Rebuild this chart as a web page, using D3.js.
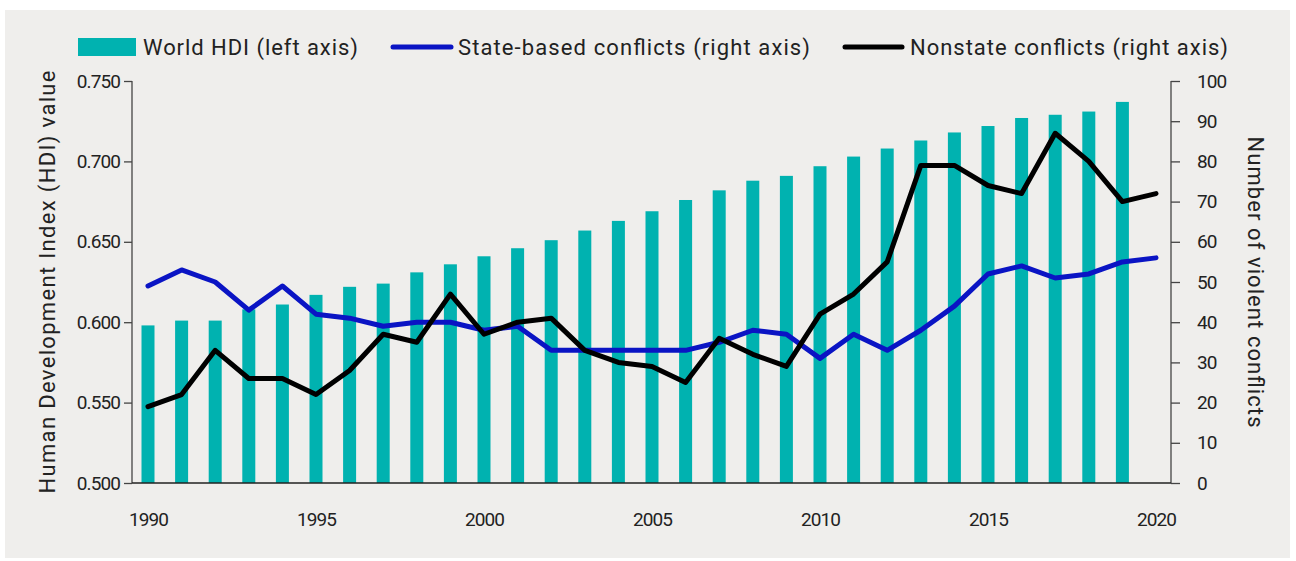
<!DOCTYPE html>
<html>
<head>
<meta charset="utf-8">
<script src="https://cdn.jsdelivr.net/npm/d3@7"></script>
<style>
  body { margin: 0; background: #fff; }
  text { font-family: Roboto, "Open Sans", sans-serif; fill: #222; }
</style>
</head>
<body>
<svg id="chart" width="1296" height="561"></svg>
<script>
// years shown on the x axis
var years = d3.range(1990, 2021);
var hdiYears = d3.range(1990, 2020);
var hdi = [0.598, 0.601, 0.601, 0.608, 0.611, 0.617, 0.622, 0.624, 0.631, 0.636,
           0.641, 0.646, 0.651, 0.657, 0.663, 0.669, 0.676, 0.682, 0.688, 0.691,
           0.697, 0.703, 0.708, 0.713, 0.718, 0.722, 0.727, 0.729, 0.731, 0.737];
var stateBased = [49, 53, 50, 43, 49, 42, 41, 39, 40, 40,
                  38, 39, 33, 33, 33, 33, 33, 35, 38, 37,
                  31, 37, 33, 38, 44, 52, 54, 51, 52, 55, 56];
var nonState = [19, 22, 33, 26, 26, 22, 28, 37, 35, 47,
                37, 40, 41, 33, 30, 29, 25, 36, 32, 29,
                42, 47, 55, 79, 79, 74, 72, 87, 80, 70, 72];
var xTicks = [1990, 1995, 2000, 2005, 2010, 2015, 2020];
var leftTicks = [0.5, 0.55, 0.6, 0.65, 0.7, 0.75];
var rightTicks = d3.range(0, 101, 10);

var svg = d3.select("#chart");

// gray panel
svg.append("rect")
  .attr("x", 5).attr("y", 10)
  .attr("width", 1285).attr("height", 548)
  .attr("fill", "#efeeec");

var plotL = 132, plotR = 1171, plotT = 81, plotB = 483;

var x = d3.scaleLinear().domain([1990, 2020]).range([148, 1156]);
var yL = d3.scaleLinear().domain([0.5, 0.75]).range([plotB, plotT]);
var yR = d3.scaleLinear().domain([0, 100]).range([plotB, plotT]);

var barW = 13;

// bars
svg.append("g").selectAll("rect")
  .data(hdiYears)
  .enter().append("rect")
  .attr("x", function(d) { return x(d) - barW / 2; })
  .attr("y", function(d, i) { return yL(hdi[i]); })
  .attr("width", barW)
  .attr("height", function(d, i) { return plotB - yL(hdi[i]); })
  .attr("fill", "#00b2b0");

// axes
var axL = svg.append("g")
  .attr("transform", "translate(" + plotL + ",0)")
  .call(d3.axisLeft(yL).tickValues(leftTicks).tickFormat(d3.format(".3f")).tickSize(8).tickPadding(4));
var axR = svg.append("g")
  .attr("transform", "translate(" + plotR + ",0)")
  .call(d3.axisRight(yR).tickValues(rightTicks).tickSize(9).tickPadding(17));
var axB = svg.append("g")
  .attr("transform", "translate(0," + plotB + ")")
  .call(d3.axisBottom(x).tickValues(xTicks).tickFormat(d3.format("d")).tickSize(0).tickPadding(30));

[axL, axR].forEach(function(a) {
  a.select(".domain").attr("d", "M0," + plotT + "V" + plotB).attr("stroke", "#444").attr("stroke-width", 1.3);
  a.selectAll(".tick line").attr("stroke", "#444").attr("stroke-width", 1.3);
});
axB.select(".domain").attr("d", "M" + plotL + ",0H" + plotR).attr("stroke", "#222").attr("stroke-width", 1.5);
[axL, axR, axB].forEach(function(a) {
  a.selectAll(".tick text")
    .attr("font-family", "Roboto, sans-serif")
    .attr("font-size", 19)
    .attr("letter-spacing", -0.9)
    .attr("fill", "#333");
});

// lines
var line = d3.line()
  .x(function(d, i) { return x(years[i]); })
  .y(function(d) { return yR(d); });

svg.append("path")
  .datum(stateBased)
  .attr("d", line)
  .attr("fill", "none")
  .attr("stroke", "#0a14c4")
  .attr("stroke-width", 5)
  .attr("stroke-linecap", "round")
  .attr("stroke-linejoin", "round");

svg.append("path")
  .datum(nonState)
  .attr("d", line)
  .attr("fill", "none")
  .attr("stroke", "#000")
  .attr("stroke-width", 5)
  .attr("stroke-linecap", "round")
  .attr("stroke-linejoin", "round");

// axis titles
svg.append("text")
  .attr("transform", "translate(55,282) rotate(-90)")
  .attr("text-anchor", "middle")
  .attr("font-size", 22)
  .attr("textLength", 423)
  .attr("lengthAdjust", "spacing")
  .text("Human Development Index (HDI) value");

svg.append("text")
  .attr("transform", "translate(1248,282) rotate(90)")
  .attr("text-anchor", "middle")
  .attr("font-size", 22)
  .attr("textLength", 291)
  .attr("lengthAdjust", "spacing")
  .text("Number of violent conflicts");

// legend
var legend = svg.append("g");
legend.append("rect")
  .attr("x", 78).attr("y", 38).attr("width", 58).attr("height", 18)
  .attr("fill", "#00b2b0");
legend.append("text")
  .attr("x", 143).attr("y", 55).attr("font-size", 22)
  .attr("textLength", 215).attr("lengthAdjust", "spacing")
  .text("World HDI (left axis)");
legend.append("line")
  .attr("x1", 393).attr("x2", 451).attr("y1", 47).attr("y2", 47)
  .attr("stroke", "#0a14c4").attr("stroke-width", 5).attr("stroke-linecap", "round");
legend.append("text")
  .attr("x", 458).attr("y", 55).attr("font-size", 22)
  .attr("textLength", 352).attr("lengthAdjust", "spacing")
  .text("State-based conflicts (right axis)");
legend.append("line")
  .attr("x1", 845).attr("x2", 902).attr("y1", 47).attr("y2", 47)
  .attr("stroke", "#000").attr("stroke-width", 5).attr("stroke-linecap", "round");
legend.append("text")
  .attr("x", 910).attr("y", 55).attr("font-size", 22)
  .attr("textLength", 318).attr("lengthAdjust", "spacing")
  .text("Nonstate conflicts (right axis)");
</script>
</body>
</html>
